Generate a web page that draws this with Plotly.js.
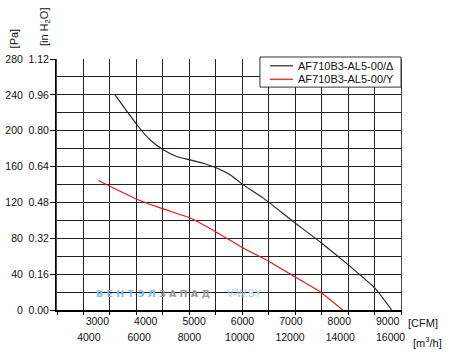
<!DOCTYPE html>
<html>
<head>
<meta charset="utf-8">
<script src="https://cdn.plot.ly/plotly-3.0.1.min.js"></script>
<style>html,body{margin:0;padding:0;background:#fff;}#chart{width:463px;height:356px;}</style>
</head>
<body>
<div id="chart"></div>
<script>
// Series names
const seriesNames = ["AF710B3-AL5-00/Δ", "AF710B3-AL5-00/Y"];
const seriesColors = ["#222", "#ee1111"];
// Δ connection: airflow [CFM] and static pressure [Pa]
const cfmDelta = [3365, 3847, 4088, 4363, 4640, 4915, 5190, 5467, 5742, 6017, 6430, 7050, 7637, 8186, 8738, 9083];
const paDelta  = [240, 204.7, 189.9, 178.7, 171.2, 167.5, 163.8, 158.3, 150.8, 139.6, 124.8, 98.6, 74.5, 50.3, 24.2, 0];
// Y connection
const cfmY = [3020, 3814, 4357, 4915, 5452, 6010, 6568, 7017, 7602, 8071];
const paY  = [144.4, 123.6, 112.8, 102.8, 87.1, 69.2, 53.6, 39.1, 20.4, 0];
// Tick labels
const cfmTicks = [3000, 4000, 5000, 6000, 7000, 8000, 9000];
const m3hTicks = [4000, 6000, 8000, 10000, 12000, 14000, 16000];
const paTicks = [0, 40, 80, 120, 160, 200, 240, 280];
const inH2OTicks = [0, 0.16, 0.32, 0.48, 0.64, 0.80, 0.96, 1.12];

const FONT = "Liberation Sans, Arial, sans-serif";
const GRID = "#222";

const traces = [
  {x: cfmDelta, y: paDelta, name: seriesNames[0], type: "scatter", mode: "lines",
   line: {color: seriesColors[0], width: 1.1, shape: "spline", smoothing: 0.6}, hoverinfo: "skip", showlegend: false},
  {x: cfmY, y: paY, name: seriesNames[1], type: "scatter", mode: "lines",
   line: {color: seriesColors[1], width: 1.1, shape: "spline", smoothing: 0.4}, hoverinfo: "skip", showlegend: false},
  // empty helper traces so the secondary axes are drawn
  {x: [], y: [], xaxis: "x2", yaxis: "y", type: "scatter", mode: "lines", showlegend: false, hoverinfo: "skip"},
  {x: [], y: [], xaxis: "x3", yaxis: "y", type: "scatter", mode: "lines", showlegend: false, hoverinfo: "skip"},
  {x: [], y: [], xaxis: "x", yaxis: "y2", type: "scatter", mode: "lines", showlegend: false, hoverinfo: "skip"}
];

// manual legend (compact, like the reference)
const legTop = 1.008, legBot = 0.888;
const legRows = [0.973, 0.919];
const shapes = [
  {type: "rect", xref: "paper", yref: "paper", x0: 0.590, x1: 1.0, y0: legBot, y1: legTop,
   line: {color: "#333", width: 1}, fillcolor: "#fff", layer: "above"}
];
const legendAnn = [];
seriesNames.forEach((n, i) => {
  shapes.push({type: "line", xref: "paper", yref: "paper", x0: 0.619, x1: 0.686, y0: legRows[i], y1: legRows[i],
               line: {color: i === 0 ? "#555" : "#f03a3a", width: 1.5}, layer: "above"});
  legendAnn.push({text: n, xref: "paper", yref: "paper", x: 0.695, y: legRows[i], xanchor: "left", yanchor: "middle",
                  showarrow: false, font: {size: 11, color: "#111"}});
});

const layout = {
  width: 463, height: 356,
  margin: {l: 57, r: 62, t: 59, b: 46, pad: 0},
  paper_bgcolor: "#fff", plot_bgcolor: "#fff",
  font: {family: FONT, size: 10.5, color: "#111"},
  showlegend: false,
  xaxis: {range: [2167, 9275], tickvals: cfmTicks, ticktext: cfmTicks.map(String),
          showgrid: false, zeroline: false, showline: true, linewidth: 2, linecolor: "#000",
          ticks: "", tickfont: {size: 10.5}, fixedrange: true},
  xaxis2: {overlaying: "x", anchor: "y", side: "bottom", range: [2734, 16415],
           tickvals: m3hTicks, ticktext: m3hTicks.map(String), showgrid: false, zeroline: false,
           showline: false, ticks: "", ticklabelstandoff: 19, tickfont: {size: 10.5}},
  xaxis3: {overlaying: "x", anchor: "y", side: "bottom", range: [0, 13], dtick: 1,
           showgrid: true, gridcolor: GRID, gridwidth: 1, zeroline: false, showline: false,
           showticklabels: false, ticks: "outside", ticklen: 4, tickcolor: "#000"},
  yaxis: {range: [0, 280], tickvals: paTicks, ticktext: paTicks.map(String),
          showgrid: true, gridcolor: GRID, gridwidth: 1, zeroline: false,
          showline: true, linewidth: 2, linecolor: "#000",
          ticks: "outside", ticklen: 5, tickcolor: "#000", ticklabelstandoff: 25,
          minor: {dtick: 20, showgrid: true, gridcolor: GRID, gridwidth: 1},
          tickfont: {size: 10.5}, fixedrange: true},
  yaxis2: {overlaying: "y", side: "left", anchor: "x", range: [0, 1.12],
           tickvals: inH2OTicks, ticktext: inH2OTicks.map(v => v.toFixed(2)),
           showgrid: false, zeroline: false, showline: true, linewidth: 1, linecolor: "#444", mirror: true,
           ticks: "outside", ticklen: 5,
           tickcolor: "rgba(0,0,0,0)", tickfont: {size: 10.5}},
  shapes: shapes,
  annotations: [
    {text: "[Pa]", xref: "paper", yref: "paper", x: -0.125, y: 1.082, textangle: -90,
     xanchor: "center", yanchor: "middle", showarrow: false, font: {size: 11}},
    {text: "[in H<sub>2</sub>O]", xref: "paper", yref: "paper", x: -0.035, y: 1.131, textangle: -90,
     xanchor: "center", yanchor: "middle", showarrow: false, font: {size: 11}},
    {text: "[CFM]", xref: "paper", yref: "paper", x: 1.063, y: -0.052,
     xanchor: "center", yanchor: "middle", showarrow: false, font: {size: 11}},
    {text: "[m<sup>3</sup>/h]", xref: "paper", yref: "paper", x: 1.077, y: -0.1255,
     xanchor: "center", yanchor: "middle", showarrow: false, font: {size: 11}},
    {text: "<b><span style='color:#7dbfe8'>В Е Н Т Э Л </span><span style='color:#999'>З А П А Д</span></b>",
     xref: "x", yref: "y", x: 4150, y: 18, showarrow: false, font: {size: 9.5, family: "DejaVu Sans"}},
    {text: "<span style='color:#a9c9e2'>V-W.BY</span>",
     xref: "x", yref: "y", x: 6050, y: 18, showarrow: false, font: {size: 10}}
  ].concat(legendAnn)
};

Plotly.newPlot("chart", traces, layout, {staticPlot: true, displayModeBar: false});
</script>
</body>
</html>
